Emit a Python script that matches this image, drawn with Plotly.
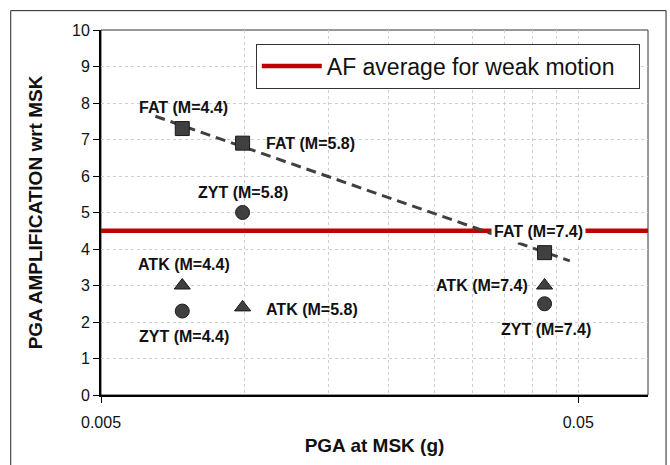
import numpy as np
import plotly.graph_objects as go

# ---------------- data ----------------
EVENTS = ["M=4.4", "M=5.8", "M=7.4"]
PGA_MSK = [0.0074, 0.0099, 0.0425]          # PGA at MSK (g)
FAT = [7.3, 6.9, 3.9]                        # amplification wrt MSK
ZYT = [2.3, 5.0, 2.5]
ATK = [3.0, 2.4, 3.0]
AF_AVG_WEAK = 4.5
X_RANGE = [0.005, 0.07]
Y_TICKS = list(range(0, 11))
X_TICKS = [0.005, 0.05]
X_TICKTEXT = ["0.005", "0.05"]
X_MINOR = [0.01, 0.015, 0.02, 0.025, 0.03, 0.035, 0.04, 0.045]
TREND_SPAN = [0.0065, 0.048]                 # trendline forecast span

FONT = "Arial, Liberation Sans, sans-serif"
MARK = "#404040"

fig = go.Figure()

# weak-motion average line
fig.add_trace(go.Scatter(
    x=X_RANGE, y=[AF_AVG_WEAK, AF_AVG_WEAK], mode="lines",
    line=dict(color="#C00000", width=4.5),
    name="AF average for weak motion\u00a0\u00a0\u00a0", showlegend=True))

# log trendline of FAT
b, a = np.polyfit(np.log10(PGA_MSK), FAT, 1)
tx = np.array(TREND_SPAN)
fig.add_trace(go.Scatter(
    x=tx, y=a + b * np.log10(tx), mode="lines",
    line=dict(color=MARK, width=3, dash="10px,6px"), showlegend=False))

for vals, sym, size in [(FAT, "square", 14), (ZYT, "circle", 14), (ATK, "triangle-up", 14)]:
    fig.add_trace(go.Scatter(
        x=PGA_MSK, y=vals, mode="markers", showlegend=False,
        marker=dict(symbol=sym, size=size, color=MARK,
                    line=dict(color="#1a1a1a", width=1))))

# data labels: (name, values, index, xanchor, yanchor, xshift, yshift, bg)
LABELS = [
    ("FAT", FAT, 0, "center", "bottom", 1, 10, None),
    ("FAT", FAT, 1, "left", "middle", 20, 0, None),
    ("FAT", FAT, 2, "center", "bottom", -6, 10, "white"),
    ("ZYT", ZYT, 1, "center", "bottom", 0, 9, None),
    ("ZYT", ZYT, 0, "center", "top", 2, -14, None),
    ("ZYT", ZYT, 2, "center", "top", 1, -14, None),
    ("ATK", ATK, 0, "center", "bottom", 2, 10, None),
    ("ATK", ATK, 1, "left", "middle", 20, -2, None),
    ("ATK", ATK, 2, "right", "middle", -14, 0, None),
]
for name, vals, i, xa, ya, xs, ys, bg in LABELS:
    fig.add_annotation(
        x=np.log10(PGA_MSK[i]), y=vals[i], xref="x", yref="y",
        text=f"<b>{name} ({EVENTS[i]})</b>", showarrow=False,
        xanchor=xa, yanchor=ya, xshift=xs, yshift=ys,
        font=dict(family=FONT, size=16, color="#111111"),
        bgcolor=bg if bg else "rgba(0,0,0,0)", borderpad=2)

grid = dict(gridcolor="#cfcfcf", griddash="dot", gridwidth=1)

fig.update_xaxes(
    type="log", range=[np.log10(X_RANGE[0]), np.log10(X_RANGE[1])],
    tickvals=X_TICKS, ticktext=X_TICKTEXT, ticks="outside", ticklen=6,
    tickcolor="black", showline=True, linecolor="black", linewidth=2,
    showgrid=True, **grid, zeroline=False, ticklabelstandoff=6,
    minor=dict(tickvals=X_MINOR, showgrid=True, gridcolor="#cfcfcf",
               griddash="dot", gridwidth=1, ticks=""),
    tickfont=dict(family=FONT, size=16, color="#111111"),
    title=dict(text="<b>PGA at MSK (g)</b>", standoff=8,
               font=dict(family=FONT, size=19, color="#111111")))

fig.update_yaxes(
    range=[0, 10], tickvals=Y_TICKS, ticks="outside", ticklen=6,
    tickcolor="black", showline=True, linecolor="black", linewidth=2,
    showgrid=True, **grid, zeroline=False,
    tickfont=dict(family=FONT, size=16, color="#111111"),
    title=dict(text="<b>PGA AMPLIFICATION wrt MSK</b>", standoff=24,
               font=dict(family=FONT, size=19, color="#111111")))

# plot-area border (top/right)
fig.add_shape(type="rect", xref="paper", yref="paper", x0=0, y0=0, x1=1, y1=1,
              line=dict(color="#333333", width=1), layer="below")
# chart-area border
fig.add_shape(type="rect", xref="paper", yref="paper",
              x0=-0.165, y0=-0.25, x1=1.033, y1=1.053,
              line=dict(color="#222222", width=1), layer="below")

fig.update_layout(
    width=670, height=465,
    margin=dict(l=101, r=22, t=30, b=57),
    paper_bgcolor="white", plot_bgcolor="white",
    font=dict(family=FONT),
    legend=dict(x=0.985, y=0.963, xanchor="right", yanchor="top",
                bgcolor="white", bordercolor="#333333", borderwidth=1,
                font=dict(family=FONT, size=23, color="#111111"),
                itemwidth=60, tracegroupgap=0),
    showlegend=True)

fig.write_html("out.html")
